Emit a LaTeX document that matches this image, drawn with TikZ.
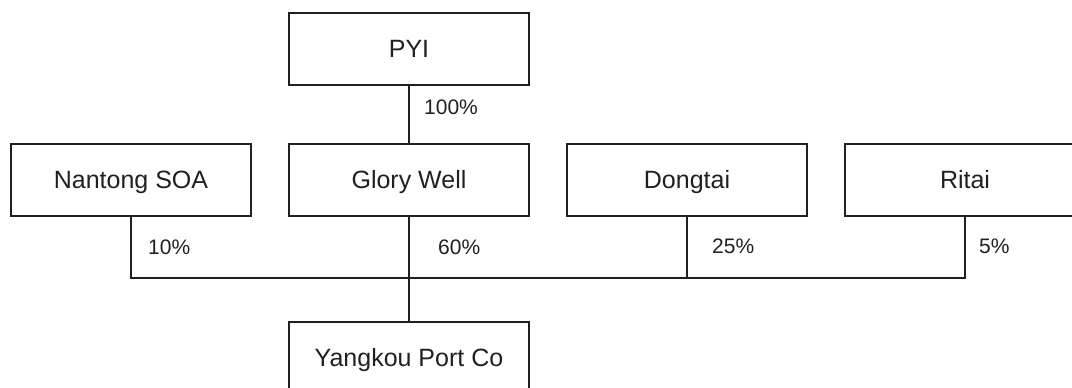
\documentclass[tikz,border=0pt]{standalone}
\usepackage{fontspec}
\setmainfont{Liberation Sans}
\usetikzlibrary{positioning}
\definecolor{ink}{HTML}{231F20}
\begin{document}
\begin{tikzpicture}[x=1pt, y=-1pt]
    \tikzstyle{entity}=[rectangle, draw=ink, line width=2pt, text=ink,
                            minimum width=240pt, minimum height=72pt,
                            text height=18pt, text depth=2pt,
                            inner sep=0pt, font=\fontsize{25}{30}\selectfont]
    \tikzstyle{share}=[anchor=west, inner sep=0pt, text=ink,
                            font=\fontsize{21}{25}\selectfont]
    \useasboundingbox (0,0) rectangle (1072,388);
    \clip (0,0) rectangle (1072,388);

    \node[entity] (pyi) at (409,49) {PYI};
    \node[entity] (nantong) at (131,180) {Nantong SOA};
    \node[entity] (glory) at (409,180) {Glory Well};
    \node[entity] (dongtai) at (687,180) {Dongtai};
    \node[entity] (ritai) at (965,180) {Ritai};
    \node[entity] (yangkou) at (409,358) {Yangkou Port Co};
    \coordinate (bus) at (409,278);

    \draw[ink, line width=2pt] (pyi) -- (glory)
          (nantong.south) |- (bus) -| (ritai.south)
          (dongtai.south) -- (dongtai.south |- bus)
          (glory) -- (yangkou);

    \node[share] (p100) at (424,107) {100\%};
    \node[share] (p10) at (148,247) {10\%};
    \node[share] (p60) at (438,247) {60\%};
    \node[share] (p25) at (712,246) {25\%};
    \node[share] (p5) at (979,246) {5\%};
\end{tikzpicture}
\end{document}
